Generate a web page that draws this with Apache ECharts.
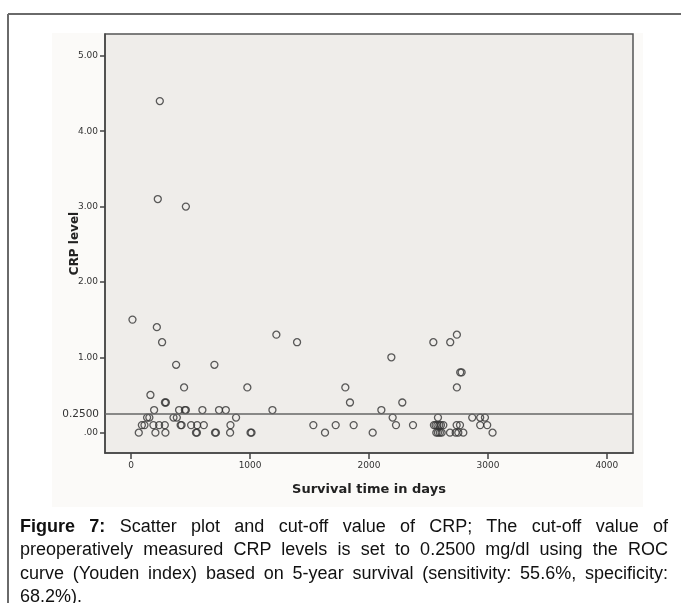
<!DOCTYPE html>
<html>
	<head>
		<meta charset="utf-8">
		<title></title>
		<script type="text/javascript" src="https://cdn.jsdelivr.net/npm/echarts@6/dist/echarts.min.js"></script>
		<style>
			body { margin: 0; background: #fff; }
			#wrap { position: relative; width: 681px; height: 603px; overflow: hidden; }
			#chart { position: absolute; left: 0; top: 0; width: 681px; height: 603px; }
			#caption {
				position: absolute; left: 20px; top: 515px; width: 648px;
				font-family: "Liberation Sans", Arial, sans-serif; font-size: 18px;
				line-height: 23.3px; color: #111;
			}
			#caption div { white-space: nowrap; text-align: justify; text-align-last: justify; }
			#caption div.last { text-align-last: left; }
		</style>
	</head>
	<body>
		<div id="wrap">
			<div id="chart"></div>
			<div id="caption">
				<div><b>Figure 7:</b> Scatter plot and cut-off value of CRP; The cut-off value of</div>
				<div>preoperatively measured CRP levels is set to 0.2500 mg/dl using the ROC</div>
				<div>curve (Youden index) based on 5-year survival (sensitivity: 55.6%, specificity:</div>
				<div class="last">68.2%).</div>
			</div>
		</div>
		<script type="text/javascript">
			// survival time (days) and CRP level
			var survivalDays = [
				241, 224, 460, 11, 216,
				1221, 2739,
				260, 1395, 2541, 2683,
				2188,
				378, 700,
				2767, 2779,
				445, 977, 1801, 2739,
				162,
				284, 292, 1840, 2280,
				193, 403, 452, 460, 599, 739, 796, 1188, 2104,
				134, 153, 356, 384, 882, 2199, 2580, 2868, 2935, 2975,
				90, 112, 187, 235, 283, 416, 424, 504, 555, 611, 835, 1532, 1720, 1871, 2227, 2370,
				2546, 2560, 2575, 2591, 2605, 2625, 2737, 2765, 2935, 2994,
				64, 204, 288, 545, 553, 705, 713, 832, 1004, 1012, 1630, 2031,
				2566, 2580, 2596, 2611, 2681, 2729, 2751, 2793, 3039
			];
			var crpLevel = [
				4.4, 3.1, 3.0, 1.5, 1.4,
				1.3, 1.3,
				1.2, 1.2, 1.2, 1.2,
				1.0,
				0.9, 0.9,
				0.8, 0.8,
				0.6, 0.6, 0.6, 0.6,
				0.5,
				0.4, 0.4, 0.4, 0.4,
				0.3, 0.3, 0.3, 0.3, 0.3, 0.3, 0.3, 0.3, 0.3,
				0.2, 0.2, 0.2, 0.2, 0.2, 0.2, 0.2, 0.2, 0.2, 0.2,
				0.1, 0.1, 0.1, 0.1, 0.1, 0.1, 0.1, 0.1, 0.1, 0.1, 0.1, 0.1, 0.1, 0.1, 0.1, 0.1,
				0.1, 0.1, 0.1, 0.1, 0.1, 0.1, 0.1, 0.1, 0.1, 0.1,
				0, 0, 0, 0, 0, 0, 0, 0, 0, 0, 0, 0,
				0, 0, 0, 0, 0, 0, 0, 0, 0
			];
			var cutoff = 0.25;
			var xTicks = [0, 1000, 2000, 3000, 4000];
			var yTicks = [0, 1, 2, 3, 4, 5];

			var points = [];
			for (var i = 0; i < survivalDays.length; i++) {
				points.push([survivalDays[i], crpLevel[i]]);
			}

			var tickFont = {
				fontFamily: 'DejaVu Sans',
				fontSize: 9,
				color: '#333'
			};

			var myChart = echarts.init(document.getElementById('chart'), null, { renderer: 'canvas' });
			var option = {
				animation: false,
				backgroundColor: '#fff',
				graphic: [{
					type: 'rect', z: -10, silent: true,
					shape: { x: 52, y: 33, width: 591, height: 474 },
					style: { fill: '#fbfaf8' }
				}, {
					type: 'line', silent: true,
					shape: { x1: 8, y1: 14, x2: 681, y2: 14 },
					style: { stroke: '#6a6a6a', lineWidth: 2 }
				}, {
					type: 'line', silent: true,
					shape: { x1: 8, y1: 14, x2: 8, y2: 603 },
					style: { stroke: '#6a6a6a', lineWidth: 2 }
				}],
				grid: {
					left: 105, right: 48, top: 34, bottom: 150,
					show: true,
					backgroundColor: '#efedea',
					borderColor: '#555',
					borderWidth: 1.5
				},
				xAxis: {
					type: 'value',
					min: -220, max: 4220,
					name: 'Survival time in days',
					nameLocation: 'middle',
					nameGap: 30,
					nameTextStyle: { fontFamily: 'DejaVu Sans', fontWeight: 'bold', fontSize: 13, color: '#222' },
					axisLine: { show: true, onZero: false, lineStyle: { color: '#444', width: 1.5 } },
					axisTick: { show: true, customValues: xTicks, length: 6, lineStyle: { color: '#444', width: 1.5 } },
					axisLabel: Object.assign({
						customValues: xTicks,
						margin: 8,
						formatter: function(value) {
							return String(value);
						}
					}, tickFont),
					splitLine: { show: false }
				},
				yAxis: {
					type: 'value',
					min: -0.27, max: 5.29,
					name: 'CRP level',
					nameLocation: 'middle',
					nameGap: 24,
					nameMoveOverlap: false,
					nameRotate: 90,
					nameTextStyle: { fontFamily: 'DejaVu Sans', fontWeight: 'bold', fontSize: 12, color: '#222' },
					axisLine: { show: true, onZero: false, lineStyle: { color: '#444', width: 1.5 } },
					axisTick: { show: true, customValues: yTicks, length: 5, lineStyle: { color: '#444', width: 1.5 } },
					axisLabel: Object.assign({
						customValues: yTicks,
						margin: 7,
						formatter: function(value) {
							return value == 0 ? '.00' : value.toFixed(2);
						}
					}, tickFont),
					splitLine: { show: false }
				},
				series: [{
					type: 'scatter',
					data: points,
					symbol: 'circle',
					symbolSize: 7,
					itemStyle: {
						color: 'rgba(0,0,0,0)',
						borderColor: '#333',
						borderWidth: 1.3
					},
					markLine: {
						silent: true,
						symbol: 'none',
						data: [{ yAxis: cutoff }],
						lineStyle: { color: '#666', width: 1.5, type: 'solid' },
						label: {
							position: 'start',
							distance: 6,
							formatter: '0.2500',
							fontFamily: 'DejaVu Sans',
							fontSize: 10.5,
							color: '#333'
						}
					}
				}]
			};

			myChart.setOption(option);
		</script>
	</body>
</html>
